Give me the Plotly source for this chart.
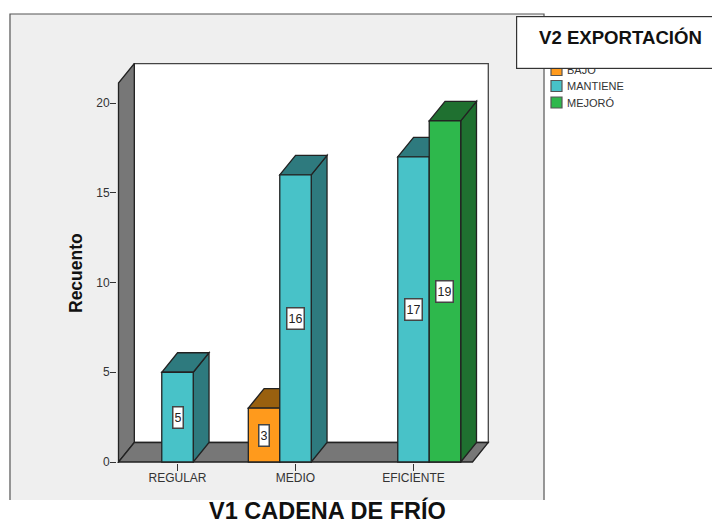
import plotly.graph_objects as go

categories = ["REGULAR", "MEDIO", "EFICIENTE"]
series_names = ["BAJO", "MANTIENE", "MEJORÓ"]
bajo = [None, 3, None]
mantiene = [5, 16, 17]
mejoro = [None, None, 19]
y_ticks = [0, 5, 10, 15, 20]

W, H = 712, 524
L, R, T, B = 117, 490, 63, 463   # plot area in page pixels
PX_CAT, PX_UNIT = 118.0, 17.95
X0_PX, Y0_PX = 177.5, 462.0

DX, DY = 15.8 / PX_CAT, 19.5 / PX_UNIT  # depth of the 3-D effect in data units
GAP = 0.2
SLOT = (1 - GAP) / 3
WALL_TOP = (Y0_PX - 83) / PX_UNIT
X_L, X_R = -0.5, 2.5
EDGE = "#222222"
LW = 1.3

front = ["#FF9A1C", "#48C2C8", "#2EB84C"]
top_c = ["#99600F", "#2E7A7E", "#1F7030"]
side_c = ["#99600F", "#2E7A7E", "#1F7030"]
values = [bajo, mantiene, mejoro]


def px(x):
    return (x - L) / (R - L)


def py(y):
    return (B - y) / (B - T)


def path(pts, close=True):
    return "M" + " L".join(f"{a:.4f},{b:.4f}" for a, b in pts) + (" Z" if close else "")


shapes = []
# grey chart panel (page-level)
panel = [(px(10), py(500)), (px(10), py(14)), (px(544), py(14)), (px(544), py(500))]
shapes.append(dict(type="path", xref="paper", yref="paper", layer="below", path=path(panel),
                   fillcolor="#EFEFEF", line=dict(width=0)))
shapes.append(dict(type="path", xref="paper", yref="paper", layer="below", path=path(panel, close=False),
                   fillcolor="rgba(0,0,0,0)", line=dict(color="#555555", width=1.2)))


def face(pts, fill, color=EDGE):
    shapes.append(dict(type="path", xref="x", yref="y", layer="below", path=path(pts),
                       fillcolor=fill, line=dict(color=color, width=LW)))


# back wall, left wall and floor
face([(X_L + DX, DY), (X_R + DX, DY), (X_R + DX, WALL_TOP + DY), (X_L + DX, WALL_TOP + DY)], "#FFFFFF", "#444444")
face([(X_L, 0), (X_L + DX, DY), (X_L + DX, WALL_TOP + DY), (X_L, WALL_TOP)], "#777777")
face([(X_L, 0), (X_R, 0), (X_R + DX, DY), (X_L + DX, DY)], "#777777")

annotations = []
for s, vals in enumerate(values):
    for c, v in enumerate(vals):
        if v is None:
            continue
        x1 = c + (s - 1.5) * SLOT
        x2 = x1 + SLOT
        face([(x2, 0), (x2 + DX, DY), (x2 + DX, v + DY), (x2, v)], side_c[s])
        face([(x1, v), (x2, v), (x2 + DX, v + DY), (x1 + DX, v + DY)], top_c[s])
        annotations.append(dict(x=(x1 + x2) / 2, y=v / 2, xref="x", yref="y", text=str(v), showarrow=False,
                                font=dict(family="Liberation Sans", size=12.5, color="#222222"),
                                bgcolor="#FFFFFF", bordercolor="#444444", borderwidth=1.5, borderpad=1,
                                height=18))

fig = go.Figure()
for s, vals in enumerate(values):
    fig.add_bar(x=[0, 1, 2], y=vals, name=series_names[s], showlegend=False,
                marker=dict(color=front[s], line=dict(color=EDGE, width=LW)))

# legend drawn by hand so swatch and label spacing match
legend_y = [70, 86, 102.5]
for s, name in enumerate(series_names):
    yc = legend_y[s]
    shapes.append(dict(type="rect", xref="paper", yref="paper", layer="below",
                       x0=px(551), x1=px(562), y0=py(yc + 5.5), y1=py(yc - 5.5),
                       fillcolor=front[s], line=dict(color="#555555", width=1.2)))
    annotations.append(dict(x=px(565), y=py(yc), xref="paper", yref="paper", text=name, showarrow=False,
                            xanchor="left", yanchor="middle",
                            font=dict(family="Liberation Sans", size=11, color="#333333")))

# legend title box (covers the top of the first legend row)
annotations.append(dict(x=px(516), y=py(16), xref="paper", yref="paper", xanchor="left", yanchor="top",
                        text=" ", showarrow=False, width=208, height=49,
                        font=dict(family="Liberation Sans", size=12),
                        bgcolor="#FFFFFF", bordercolor="#333333", borderwidth=1.2))
annotations.append(dict(x=px(620), y=py(37), xref="paper", yref="paper", xanchor="center", yanchor="middle",
                        text="<b>V2 EXPORTACIÓN</b>", showarrow=False,
                        font=dict(family="Liberation Sans", size=18.6, color="#111111")))
annotations.append(dict(x=px(327.5), y=py(510.5), xref="paper", yref="paper", xanchor="center", yanchor="middle",
                        text="<b>V1 CADENA DE FRÍO</b>", showarrow=False,
                        font=dict(family="Liberation Sans", size=23.5, color="#111111")))
annotations.append(dict(x=px(76), y=py(273), xref="paper", yref="paper", xanchor="center", yanchor="middle",
                        text="<b>Recuento</b>", showarrow=False, textangle=-90,
                        font=dict(family="Liberation Sans", size=17.5, color="#111111")))

tick_font = dict(family="Liberation Sans", size=12, color="#333333")
fig.update_layout(
    width=W, height=H, barmode="group", bargap=GAP, bargroupgap=0,
    margin=dict(l=L, r=W - R, t=T, b=H - B, pad=0),
    paper_bgcolor="#FFFFFF", plot_bgcolor="rgba(0,0,0,0)",
    showlegend=False, shapes=shapes, annotations=annotations,
    xaxis=dict(range=[(L - X0_PX) / PX_CAT, (R - X0_PX) / PX_CAT], tickmode="array", tickvals=[0, 1, 2],
               ticktext=categories, ticks="outside", ticklen=7, tickwidth=1.4, tickcolor="#333333",
               showgrid=False, zeroline=False, showline=False, tickfont=tick_font, fixedrange=True,
               ticklabelstandoff=-3),
    yaxis=dict(range=[(Y0_PX - B) / PX_UNIT, (Y0_PX - T) / PX_UNIT], tickmode="array", tickvals=y_ticks,
               ticks="outside", ticklen=6, tickwidth=1.4, tickcolor="#333333",
               showgrid=False, zeroline=False, showline=False, tickfont=tick_font, fixedrange=True,
               ticklabelstandoff=-2),
)
fig.write_html("out.html", post_script="document.body.style.margin='0';", config=dict(displayModeBar=False))
